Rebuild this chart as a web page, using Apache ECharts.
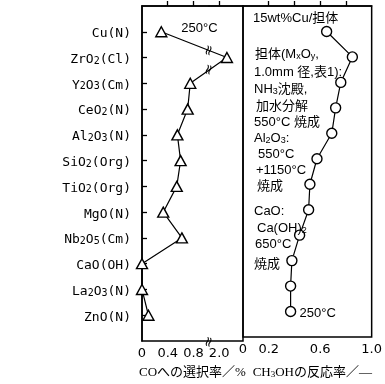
<!DOCTYPE html>
<html><head><meta charset="utf-8">
<script src="https://cdn.jsdelivr.net/npm/echarts@6/dist/echarts.min.js"></script>
<style>html,body{margin:0;padding:0;background:#fff}#c{width:385px;height:384px}</style>
</head><body><div id="c"></div>
<script>
// ---- data ----
const categories = ['Cu(N)','ZrO2(Cl)','Y2O3(Cm)','CeO2(N)','Al2O3(N)','SiO2(Org)','TiO2(Org)','MgO(N)','Nb2O5(Cm)','CaO(OH)','La2O3(N)','ZnO(N)'];
const coSelectivity = [0.30, 2.12, 0.75, 0.71, 0.55, 0.60, 0.54, 0.33, 0.62, 0.0, 0.0, 0.10];   // CO selectivity / %
const methanolRate  = [0.65, 0.85, 0.76, 0.72, 0.69, 0.575, 0.52, 0.51, 0.44, 0.38, 0.37, 0.37]; // CH3OH rate / -
const leftTickLabels = [0, 0.4, 0.8, 2.0];
const leftTicks = [0.4, 0.8, 2.0];
const rightTickLabels = [0, 0.2, 0.6, 1.0];
const rightTicks = [0.2, 0.4, 0.6, 0.8];
const axisBreak = {start: 1.03, end: 1.83};

// digits after a letter/")" and "_x" become subscripts
const sub = s => '{a|' + s.replace(/([A-Za-z\)])(\d)/g, '$1}{s|$2}{a|').replace(/_(\w)/g, '}{s|$1}{a|') + '}';
const catPos = categories.map((c, i) => i + 1);

const black = '#000';
const monoFont = 'DejaVu Sans Mono';
const jpFont = "'Liberation Sans Narrow','Liberation Sans','Noto Sans CJK JP'";
const titleFont = "'Liberation Serif','Noto Sans CJK JP'";

const chart = echarts.init(document.getElementById('c'), null, {renderer: 'canvas'});
const option = {
  animation: false,
  backgroundColor: '#fff',
  grid: [
    {left: 142, top: 6, width: 101, height: 336, show: true, borderColor: black, borderWidth: 1.5, containLabel: false},
    {left: 243, top: 6, width: 130, height: 336, show: true, borderColor: black, borderWidth: 1.5, containLabel: false}
  ],
  xAxis: [
    {
      type: 'value', gridIndex: 0, min: 0, max: 2.37,
      breaks: [{start: axisBreak.start, end: axisBreak.end, gap: 0}],
      breakArea: {show: false},
      axisLine: {show: true, lineStyle: {color: black, width: 1.5}},
      axisTick: {show: true, inside: true, length: 5, customValues: leftTicks, lineStyle: {color: black, width: 1.3}},
      axisLabel: {customValues: leftTickLabels, formatter: v => v === 0 ? '0' : v.toFixed(1), color: black, fontSize: 13, fontFamily: 'DejaVu Sans', margin: 6},
      splitLine: {show: false},
      name: '{a|COへの選択率／%}', nameLocation: 'middle', nameGap: 25,
      nameTextStyle: {rich: {a: {fontSize: 13, color: black, fontFamily: titleFont}}}
    },
    {
      type: 'value', gridIndex: 1, min: 0, max: 1.0,
      axisLine: {show: true, lineStyle: {color: black, width: 1.5}},
      axisTick: {show: true, inside: true, length: 5, customValues: rightTicks, lineStyle: {color: black, width: 1.3}},
      axisLabel: {customValues: rightTickLabels, formatter: v => v === 0 ? '0' : v.toFixed(1), color: black, fontSize: 13, fontFamily: 'DejaVu Sans', margin: 6},
      splitLine: {show: false},
      name: sub('CH3OHの反応率／—'), nameLocation: 'middle', nameGap: 25,
      nameTextStyle: {padding: [0, 0, 0, 10], rich: {
        a: {fontSize: 13, color: black, fontFamily: titleFont, verticalAlign: 'bottom', lineHeight: 17},
        s: {fontSize: 9, color: black, fontFamily: "'Liberation Serif'", verticalAlign: 'bottom', lineHeight: 9}
      }}
    }
  ],
  yAxis: [
    {
      type: 'value', gridIndex: 0, inverse: true, min: 0, max: 13,
      axisLine: {show: true, lineStyle: {color: black, width: 1.5}},
      axisTick: {show: true, inside: true, length: 5, customValues: catPos, lineStyle: {color: black, width: 1.3}},
      axisLabel: {
        customValues: catPos, margin: 11, align: 'right',
        formatter: v => sub(categories[v - 1]),
        rich: {
          a: {fontSize: 13, color: black, fontFamily: monoFont, verticalAlign: 'bottom', lineHeight: 17},
          s: {fontSize: 10, color: black, fontFamily: monoFont, verticalAlign: 'bottom', lineHeight: 9}
        }
      },
      splitLine: {show: false}
    },
    {
      type: 'value', gridIndex: 1, inverse: true, min: 0, max: 13,
      axisLine: {show: false}, axisTick: {show: false}, axisLabel: {show: false}, splitLine: {show: false}
    }
  ],
  series: [
    {
      type: 'line', xAxisIndex: 0, yAxisIndex: 0,
      data: coSelectivity.map((v, i) => [v, catPos[i]]),
      symbol: 'triangle', symbolSize: [11, 10],
      lineStyle: {color: black, width: 1.2},
      itemStyle: {color: '#fff', borderColor: black, borderWidth: 1.4},
      z: 5
    },
    {
      type: 'line', xAxisIndex: 1, yAxisIndex: 1,
      data: methanolRate.map((v, i) => [v, catPos[i]]),
      symbol: 'circle', symbolSize: 10,
      lineStyle: {color: black, width: 1.2},
      itemStyle: {color: '#fff', borderColor: black, borderWidth: 1.4},
      z: 5
    }
  ]
};
chart.setOption(option);

// ---- annotations ----
const txtRich = {
  a: {fontSize: 13, fill: black, fontFamily: jpFont, verticalAlign: 'bottom', lineHeight: 16},
  s: {fontSize: 9, fill: black, fontFamily: jpFont, verticalAlign: 'bottom', lineHeight: 8}
};
function label(x, y, text) {
  return {type: 'text', x: x, y: y, z: 20, style: {text: sub(text), rich: txtRich, verticalAlign: 'middle', fill: black}};
}
const notes = [
  [253, 17, '15wt%Cu/担体'],
  [255, 53, '担体(M_xO_y,'],
  [254, 71, '1.0mm 径,表1):'],
  [254, 88, 'NH3沈殿,'],
  [256, 105, '加水分解'],
  [254, 121, '550°C 焼成'],
  [254, 137, 'Al2O3:'],
  [258, 153, '550°C'],
  [256, 169, '+1150°C'],
  [257, 185, '焼成'],
  [254, 210, 'CaO:'],
  [257, 227, 'Ca(OH)2'],
  [255, 243, '650°C'],
  [254, 263, '焼成'],
];
const graphics = notes.map(n => label(n[0], n[1], n[2]));

// temperature labels placed relative to data points
const pCu = chart.convertToPixel({seriesIndex: 0}, [coSelectivity[0], catPos[0]]);
graphics.push({type: 'text', x: pCu[0] + 20, y: pCu[1] - 3, z: 20, style: {text: '250°C', fontSize: 13, fontFamily: jpFont, fill: black, verticalAlign: 'middle'}});
const last = methanolRate.length - 1;
const pZn = chart.convertToPixel({seriesIndex: 1}, [methanolRate[last], catPos[last]]);
graphics.push({type: 'text', x: pZn[0] + 9, y: pZn[1] + 2, z: 20, style: {text: '250°C', fontSize: 13, fontFamily: jpFont, fill: black, verticalAlign: 'middle'}});

// break marks
const xb = chart.convertToPixel({xAxisIndex: 0}, axisBreak.start) + 1;
function breakMark(x, y) {
  return {type: 'text', x: x, y: y, rotation: 1.3, z: 21,
    style: {text: '≈', fontSize: 14, fontFamily: 'DejaVu Sans', fill: black, align: 'center', verticalAlign: 'middle'}};
}
[[0, 1], [1, 2]].forEach(([i, j]) => {
  const a = chart.convertToPixel({seriesIndex: 0}, [coSelectivity[i], catPos[i]]);
  const b = chart.convertToPixel({seriesIndex: 0}, [coSelectivity[j], catPos[j]]);
  const t = (xb - a[0]) / (b[0] - a[0]);
  graphics.push(breakMark(xb, a[1] + t * (b[1] - a[1])));
});
const yAxisBottom = chart.convertToPixel({yAxisIndex: 0}, 13);
graphics.push(breakMark(xb, yAxisBottom + 1));

chart.setOption({graphic: graphics});
</script>
</body></html>
